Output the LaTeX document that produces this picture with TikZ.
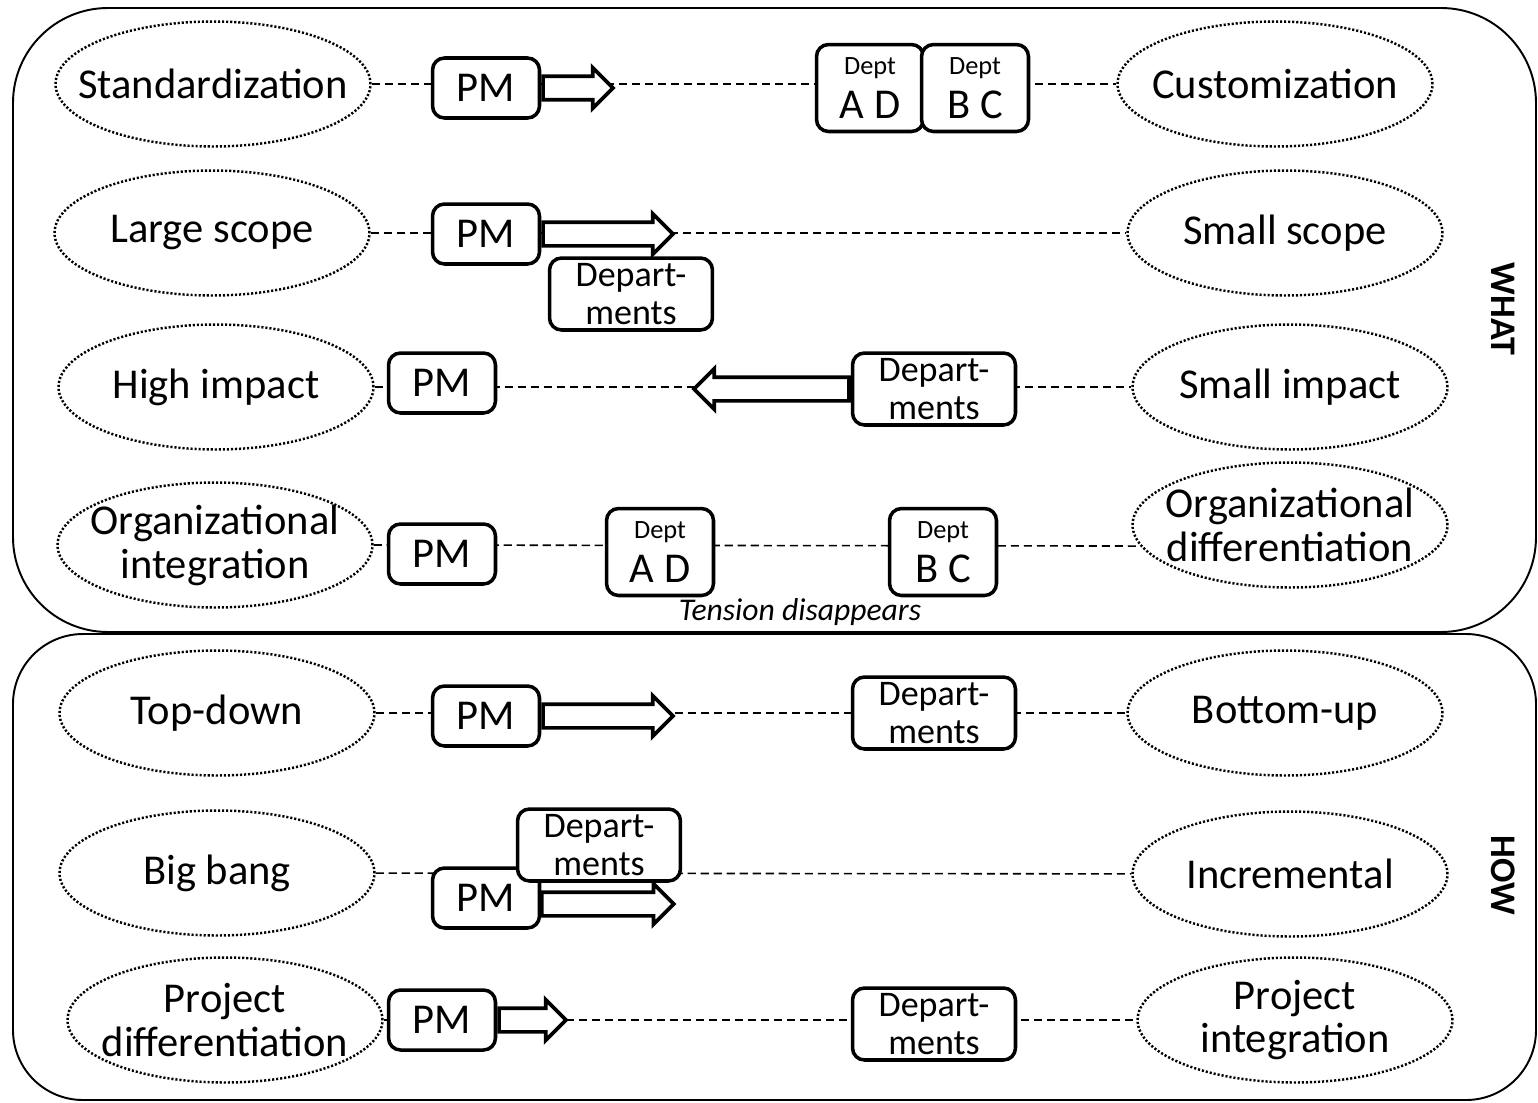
\documentclass[tikz,border=0pt]{standalone}
\usepackage{fontspec}
\setmainfont{Carlito}
\usetikzlibrary{shapes.geometric,shapes.arrows,backgrounds}

\newcommand{\deptfont}{\fontsize{15}{16}\selectfont}

\tikzset{
  frame/.style={draw, line width=1.1pt},
  pole/.style={ellipse, draw, line width=1.4pt, dash pattern=on 1.2pt off 1.1pt, minimum width=6.3cm, minimum height=2.5cm, inner sep=0pt},
  actor/.style={draw, line width=2pt, rounded corners=0.24cm, fill=white, minimum width=2.14cm, minimum height=1.2cm, inner sep=0pt},
  depts/.style={actor, minimum width=3.26cm, minimum height=1.44cm, align=center, font=\fontsize{20.5}{22}\selectfont},
  dept/.style={actor, minimum height=1.74cm, align=center},
  push/.style={single arrow, draw, line width=2.1pt, fill=white, inner xsep=0pt, inner ysep=0.2cm, single arrow head extend=0.17cm, anchor=tail},
  link/.style={line width=0.9pt, dash pattern=on 4.6pt off 2.8pt},
  side/.style={rotate=-90, font=\bfseries\fontsize{20.5}{22}\selectfont}
}

\begin{document}
\begin{tikzpicture}[x=0.02cm, y=-0.02cm, font=\fontsize{24.2}{25}\selectfont]
  \useasboundingbox (0,0) rectangle (1538,1102);

  % Frames
  \draw[frame, rounded corners=1.9cm] (13,8) rectangle (1536,632);
  \draw[frame, rounded corners=1.4cm] (13,634) rectangle (1536,1100);
  \node[side] (what) at (1503,309) {WHAT};
  \node[side] (how) at (1503,875) {HOW};

  % Standardization - Customization
  \node[pole, label=center:Standardization] (std) at (213,84) {};
  \node[pole, label=center:Customization] (cus) at (1275,84) {};
  \node[actor] (pm1) at (486,88) {PM};
  \node[push, minimum height=1.4cm] (ar1) at (pm1.east) {};
  \node[dept] (ad1) at (870,88) {{\deptfont Dept}\\A D};
  \node[dept] (bc1) at (975,88) {{\deptfont Dept}\\B C};

  % Large scope - Small scope
  \node[pole, label=center:Large scope] (lsc) at (212,233) {};
  \node[pole, label=center:Small scope] (ssc) at (1285,233) {};
  \node[actor] (pm2) at (486,234) {PM};
  \node[push, minimum height=2.6cm] (ar2) at (pm2.east) {};
  \node[depts] (dp2) at (631,294) {Depart-\\ments};

  % High impact - Small impact
  \node[pole, label=center:High impact] (him) at (216,387) {};
  \node[pole, label=center:Small impact] (sim) at (1290,387) {};
  \node[actor] (pm3) at (442,383) {PM};
  \node[depts] (dp3) at (934,389) {Depart-\\ments};
  \node[push, minimum height=3.1cm, shape border rotate=180] (ar3) at (dp3.west) {};

  % Organizational integration - differentiation
  \node[pole, label={[align=center]center:Organizational\\integration}] (oin) at (215,545) {};
  \node[pole, label={[align=center]center:Organizational\\differentiation}] (odf) at (1290,525) {};
  \node[actor] (pm4) at (442,554) {PM};
  \node[dept] (ad4) at (660,552) {{\deptfont Dept}\\A D};
  \node[dept] (bc4) at (943,552) {{\deptfont Dept}\\B C};
  \node[font=\itshape\fontsize{18}{20}\selectfont] (tens) at (800,612) {Tension disappears};

  % Top-down - Bottom-up
  \node[pole, label=center:Top-down] (tdn) at (217,713) {};
  \node[pole, label=center:Bottom-up] (bup) at (1285,713) {};
  \node[actor] (pm5) at (486,716) {PM};
  \node[push, minimum height=2.6cm] (ar5) at (pm5.east) {};
  \node[depts] (dp5) at (934,713) {Depart-\\ments};

  % Big bang - Incremental
  \node[pole, label=center:Big bang] (bbg) at (217,873) {};
  \node[pole, label=center:Incremental] (inc) at (1290,874) {};
  \node[actor] (pm6) at (486,898) {PM};
  \node[depts] (dp6) at (599,845) {Depart-\\ments};
  \node[push, minimum height=2.64cm] (ar6) at (540,904) {};

  % Project differentiation - integration
  \node[pole, label={[align=center]center:Project\\differentiation}] (pdf) at (225,1020) {};
  \node[pole, label={[align=center]center:Project\\integration}] (pin) at (1295,1020) {};
  \node[actor] (pm7) at (442,1020) {PM};
  \node[push, minimum height=1.34cm] (ar7) at (pm7.east) {};
  \node[depts] (dp7) at (934,1024) {Depart-\\ments};

  % Dashed continua behind the boxes
  \begin{scope}[on background layer]
    \draw[link] (std) -- (cus);
    \draw[link] (lsc) -- (ssc);
    \draw[link] (him) -- (sim);
    \draw[link] (oin.east) -- (odf.188);
    \draw[link] (tdn) -- (bup);
    \draw[link] (bbg) -- (inc);
    \draw[link] (pdf) -- (pin);
  \end{scope}
\end{tikzpicture}
\end{document}
